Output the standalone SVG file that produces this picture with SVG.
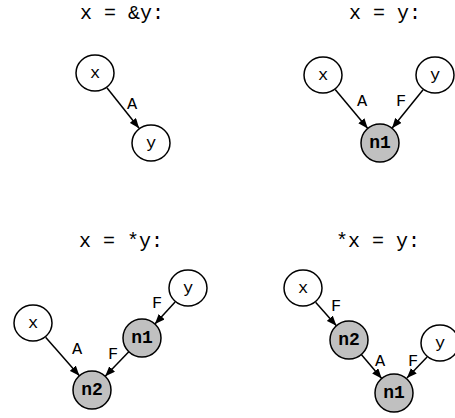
<svg xmlns="http://www.w3.org/2000/svg" width="455" height="418" viewBox="0 0 455 418">
<defs>
<marker id="ah" viewBox="0 0 10 8" refX="10" refY="4" markerWidth="10" markerHeight="8" markerUnits="userSpaceOnUse" orient="auto">
<path d="M0,0 L10,4 L0,8 Z" fill="#000"/>
</marker>
<style>
.title{font-family:"Liberation Mono",monospace;font-size:20px;fill:#000}
.node ellipse{fill:#fff;stroke:#000;stroke-width:1.5}
.node.g ellipse{fill:#c0c0c0}
.node text{font-family:"Liberation Mono",monospace;font-size:17px;text-anchor:middle;dominant-baseline:central;fill:#000}
.node.g text{font-weight:bold;font-size:18px}
.edges line{stroke:#000;stroke-width:1.5;marker-end:url(#ah)}
.edges text{font-family:"Liberation Mono",monospace;font-size:17px;text-anchor:middle;dominant-baseline:central;fill:#000}
</style>
</defs>
<rect width="455" height="418" fill="#fff"/>
<text class="title" x="80" y="19" xml:space="preserve">x = &amp;y:</text>
<text class="title" x="349" y="19" xml:space="preserve">x = y:</text>
<text class="title" x="79" y="247" xml:space="preserve">x = *y:</text>
<text class="title" x="336" y="247" xml:space="preserve">*x = y:</text>
<g class="edges">
<line x1="106.9" y1="87.8" x2="139.1" y2="128.2"/>
<text x="132" y="104">A</text>
<line x1="335.2" y1="89.6" x2="367.8" y2="128.4"/>
<text x="362" y="101">A</text>
<line x1="423.1" y1="89.8" x2="392" y2="128.2"/>
<text x="401" y="101">F</text>
<line x1="175.1" y1="302" x2="154.9" y2="324"/>
<text x="157" y="303">F</text>
<line x1="45.6" y1="337.3" x2="79.4" y2="375.7"/>
<text x="77" y="349">A</text>
<line x1="128.8" y1="351.7" x2="105.2" y2="376.3"/>
<text x="113" y="354">F</text>
<line x1="315.6" y1="302.2" x2="336.4" y2="325.8"/>
<text x="336" y="306">F</text>
<line x1="361.3" y1="354.5" x2="381.7" y2="378.5"/>
<text x="380" y="361">A</text>
<line x1="427.1" y1="357" x2="406.9" y2="378"/>
<text x="413" y="361">F</text>
</g>
<g id="p1_x" class="node"><ellipse cx="95" cy="73" rx="19" ry="18"/><text x="95" y="73">x</text></g>
<g id="p1_y" class="node"><ellipse cx="151" cy="143" rx="19" ry="18"/><text x="151" y="143">y</text></g>
<g id="p2_x" class="node"><ellipse cx="323" cy="75" rx="19" ry="18"/><text x="323" y="75">x</text></g>
<g id="p2_y" class="node"><ellipse cx="435" cy="75" rx="19" ry="18"/><text x="435" y="75">y</text></g>
<g id="p2_n1" class="node g"><ellipse cx="380" cy="143" rx="19" ry="19"/><text x="380" y="143">n1</text></g>
<g id="p3_y" class="node"><ellipse cx="188" cy="288" rx="19" ry="18"/><text x="188" y="288">y</text></g>
<g id="p3_x" class="node"><ellipse cx="33" cy="323" rx="19" ry="18"/><text x="33" y="323">x</text></g>
<g id="p3_n1" class="node g"><ellipse cx="142" cy="338" rx="19" ry="19"/><text x="142" y="338">n1</text></g>
<g id="p3_n2" class="node g"><ellipse cx="92" cy="390" rx="19" ry="19"/><text x="92" y="390">n2</text></g>
<g id="p4_x" class="node"><ellipse cx="303" cy="288" rx="19" ry="18"/><text x="303" y="288">x</text></g>
<g id="p4_n2" class="node g"><ellipse cx="349" cy="340" rx="19" ry="19"/><text x="349" y="340">n2</text></g>
<g id="p4_y" class="node"><ellipse cx="440" cy="343" rx="19" ry="18"/><text x="440" y="343">y</text></g>
<g id="p4_n1" class="node g"><ellipse cx="394" cy="393" rx="19" ry="19"/><text x="394" y="393">n1</text></g>
</svg>
